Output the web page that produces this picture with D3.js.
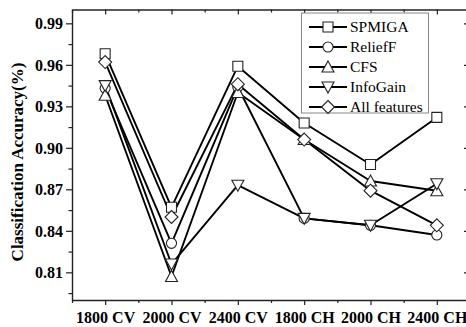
<!DOCTYPE html>
<html>
<head>
<meta charset="utf-8">
<script src="https://cdn.jsdelivr.net/npm/d3@7"></script>
<style>
  html, body { margin: 0; padding: 0; background: #fff; }
  svg { display: block; }
  text { font-family: "Liberation Serif", "Times New Roman", serif; }
</style>
</head>
<body>
<svg id="chart" width="466" height="327"></svg>
<script>
// Categories and accuracy values per feature-selection method
const categories = ["1800 CV", "2000 CV", "2400 CV", "1800 CH", "2000 CH", "2400 CH"];
const spmiga      = [0.968, 0.857, 0.959, 0.918, 0.888, 0.922];
const reliefF     = [0.943, 0.831, 0.944, 0.849, 0.844, 0.837];
const cfs         = [0.938, 0.807, 0.940, 0.906, 0.876, 0.869];
const infoGain    = [0.945, 0.816, 0.873, 0.849, 0.844, 0.874];
const allFeatures = [0.962, 0.850, 0.946, 0.906, 0.869, 0.844];
const seriesNames = ["SPMIGA", "ReliefF", "CFS", "InfoGain", "All features"];
const yTicks = [0.81, 0.84, 0.87, 0.90, 0.93, 0.96, 0.99];
const yMinorTicks = [0.795, 0.825, 0.855, 0.885, 0.915, 0.945, 0.975];

const series = [
  { name: seriesNames[0], values: spmiga, symbol: "square" },
  { name: seriesNames[1], values: reliefF, symbol: "circle" },
  { name: seriesNames[2], values: cfs, symbol: "up" },
  { name: seriesNames[3], values: infoGain, symbol: "down" },
  { name: seriesNames[4], values: allFeatures, symbol: "diamond" }
];

(function draw() {
  const svg = d3.select("#chart");
  const mLeft = 72, mRight = 470, mTop = 9.5, mBottom = 300;

  const x = d3.scaleLinear().domain([-0.5, categories.length - 0.5]).range([mLeft, mRight]);
  const y = d3.scaleLinear().domain([0.79, 1.0]).range([mBottom, mTop]);

  // Symbol path generators, centred at the origin
  function symbolPath(kind) {
    switch (kind) {
      case "square": return "M-5,-5H5V5H-5Z";
      case "circle": return d3.symbol(d3.symbolCircle, 80)();
      case "up": return "M0,-6L6,5H-6Z";
      case "down": return "M0,6L6,-5H-6Z";
      case "diamond": return "M0,-6.5L6.5,0L0,6.5L-6.5,0Z";
    }
  }

  const majorX = d3.range(categories.length);
  const minorX = d3.range(categories.length + 1).map(i => i - 0.5);

  // Bottom axis (ticks outward)
  const gx = svg.append("g").attr("transform", `translate(0,${mBottom})`)
    .call(d3.axisBottom(x).tickValues(majorX).tickFormat(i => categories[i]).tickSize(5).tickSizeOuter(0));
  gx.selectAll("text").attr("font-size", "16px").attr("font-weight", "bold")
    .attr("fill", "#000").attr("y", 9).attr("dy", "0.9em");
  svg.append("g").attr("transform", `translate(0,${mBottom})`)
    .call(d3.axisBottom(x).tickValues(minorX).tickFormat("").tickSize(3).tickSizeOuter(0))
    .select(".domain").remove();

  // Top axis (ticks inward)
  svg.append("g").attr("transform", `translate(0,${mTop})`)
    .call(d3.axisBottom(x).tickValues(majorX).tickFormat("").tickSize(5).tickSizeOuter(0));
  svg.append("g").attr("transform", `translate(0,${mTop})`)
    .call(d3.axisBottom(x).tickValues(minorX).tickFormat("").tickSize(3).tickSizeOuter(0))
    .select(".domain").remove();

  // Left axis (ticks outward)
  const gy = svg.append("g").attr("transform", `translate(${mLeft},0)`)
    .call(d3.axisLeft(y).tickValues(yTicks).tickFormat(d3.format(".2f")).tickSize(6).tickSizeOuter(0));
  gy.selectAll("text").attr("font-size", "16px").attr("font-weight", "bold")
    .attr("fill", "#000").attr("x", -9).attr("dy", "0.34em");
  svg.append("g").attr("transform", `translate(${mLeft},0)`)
    .call(d3.axisLeft(y).tickValues(yMinorTicks).tickFormat("").tickSize(3.5).tickSizeOuter(0))
    .select(".domain").remove();

  // Right axis (ticks inward)
  svg.append("g").attr("transform", `translate(${mRight},0)`)
    .call(d3.axisLeft(y).tickValues(yTicks).tickFormat("").tickSize(6).tickSizeOuter(0));
  svg.append("g").attr("transform", `translate(${mRight},0)`)
    .call(d3.axisLeft(y).tickValues(yMinorTicks).tickFormat("").tickSize(3.5).tickSizeOuter(0))
    .select(".domain").remove();

  svg.selectAll(".domain").attr("stroke", "#222").attr("stroke-width", 1.4);
  svg.selectAll(".tick line").attr("stroke", "#222").attr("stroke-width", 1.2);
  svg.selectAll(".tick text").style("font-family", "'Liberation Serif', serif");

  // Y axis title
  svg.append("text")
    .attr("transform", `translate(23,162) rotate(-90)`)
    .attr("text-anchor", "middle")
    .attr("font-size", "17px").attr("font-weight", "bold")
    .text("Classification Accuracy(%)");

  // Series lines
  const line = d3.line().x((d, i) => x(i)).y(d => y(d));
  svg.append("g").selectAll("path").data(series).join("path")
    .attr("d", s => line(s.values))
    .attr("fill", "none").attr("stroke", "#000").attr("stroke-width", 1.9)
    .attr("stroke-linejoin", "round");

  // Markers
  series.forEach(s => {
    svg.append("g").selectAll("path").data(s.values).join("path")
      .attr("transform", (d, i) => `translate(${x(i)},${y(d)})`)
      .attr("d", symbolPath(s.symbol))
      .attr("fill", "#fff").attr("stroke", "#222").attr("stroke-width", 1.1);
  });

  // Legend
  const legend = svg.append("g");
  legend.append("rect").attr("x", 301.5).attr("y", 13).attr("width", 127).attr("height", 100)
    .attr("fill", "#fff").attr("stroke", "#888").attr("stroke-width", 1);
  series.forEach((s, i) => {
    const ly = 27 + i * 20;
    legend.append("line").attr("x1", 309).attr("x2", 347).attr("y1", ly).attr("y2", ly)
      .attr("stroke", "#000").attr("stroke-width", 1.9);
    legend.append("path").attr("transform", `translate(328,${ly})`).attr("d", symbolPath(s.symbol))
      .attr("fill", "#fff").attr("stroke", "#222").attr("stroke-width", 1.1);
    legend.append("text").attr("x", 350).attr("y", ly).attr("dy", "0.35em")
      .attr("font-size", "15.5px").text(s.name);
  });
})();
</script>
</body>
</html>
